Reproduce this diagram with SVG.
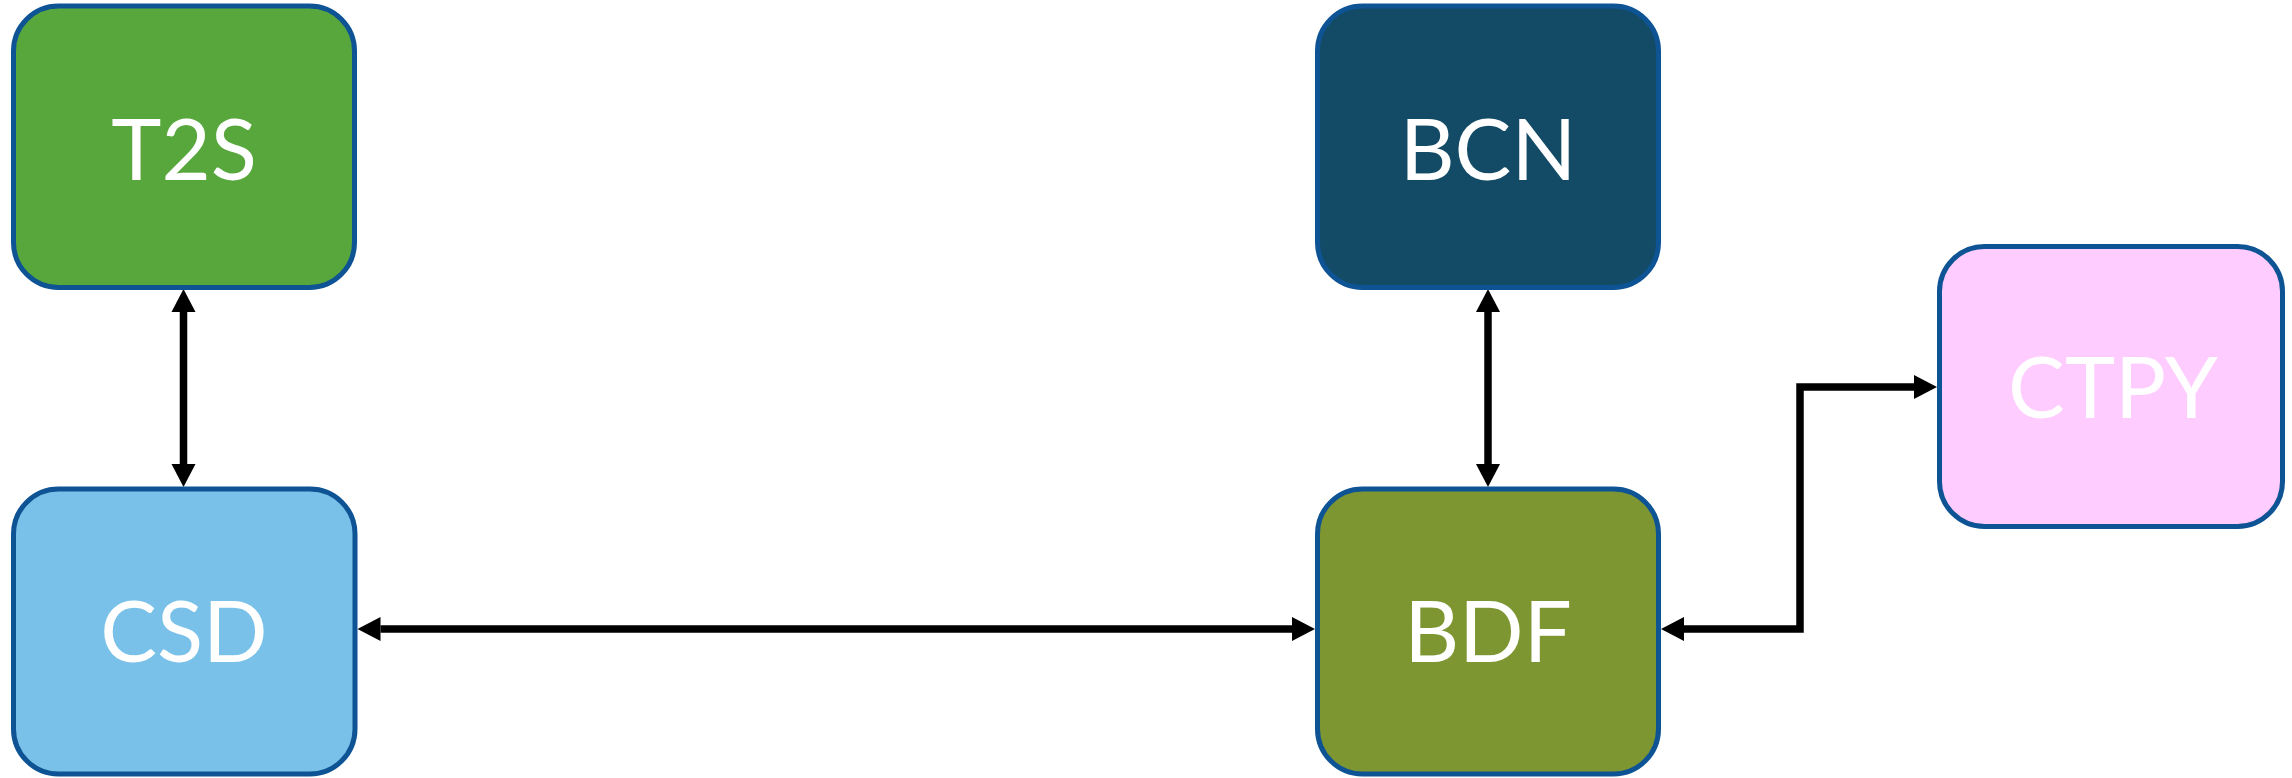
<svg xmlns="http://www.w3.org/2000/svg" width="2292" height="778" viewBox="0 0 2292 778">
<style>
.node rect{stroke:#0E5495;stroke-width:5}
.node text{font-family:Lato,"Open Sans","Liberation Sans",sans-serif;font-size:85px;fill:#FFFFFF;text-anchor:middle}
.conn{fill:none;stroke:#000000;stroke-width:7.5;marker-start:url(#ah);marker-end:url(#ah)}
</style>
<defs>
<marker id="ah" markerUnits="userSpaceOnUse" markerWidth="24" markerHeight="25" refX="0" refY="12" orient="auto-start-reverse" overflow="visible">
<path d="M0,0 L23,12 L0,24 Z" fill="#000000"/>
</marker>
</defs>
<rect width="2292" height="778" fill="#FFFFFF"/>
<g id="connectors">
<path class="conn" d="M183.5,312 L183.5,464"/>
<path class="conn" d="M1488,312 L1488,464"/>
<path class="conn" d="M380.5,629 L1292,629"/>
<path class="conn" d="M1684,629 L1800,629 L1800,387 L1914,387"/>
</g>
<g id="T2S" class="node">
<rect x="13.5" y="6" width="341" height="281.5" rx="45" ry="45" fill="#58A73C"/>
<text x="184" y="180">T2S</text>
</g>
<g id="BCN" class="node">
<rect x="1317.5" y="6" width="341" height="281.5" rx="45" ry="45" fill="#134B66"/>
<text x="1488" y="180">BCN</text>
</g>
<g id="CTPY" class="node">
<rect x="1939.5" y="246.5" width="343" height="280" rx="45" ry="45" fill="#FFCCFF"/>
<text x="2113" y="418">CTPY</text>
</g>
<g id="CSD" class="node">
<rect x="13.5" y="489" width="341.5" height="285" rx="45" ry="45" fill="#79C1E8"/>
<text x="184" y="662">CSD</text>
</g>
<g id="BDF" class="node">
<rect x="1317.5" y="489" width="341" height="285" rx="45" ry="45" fill="#7E9632"/>
<text x="1488" y="662">BDF</text>
</g>
</svg>
